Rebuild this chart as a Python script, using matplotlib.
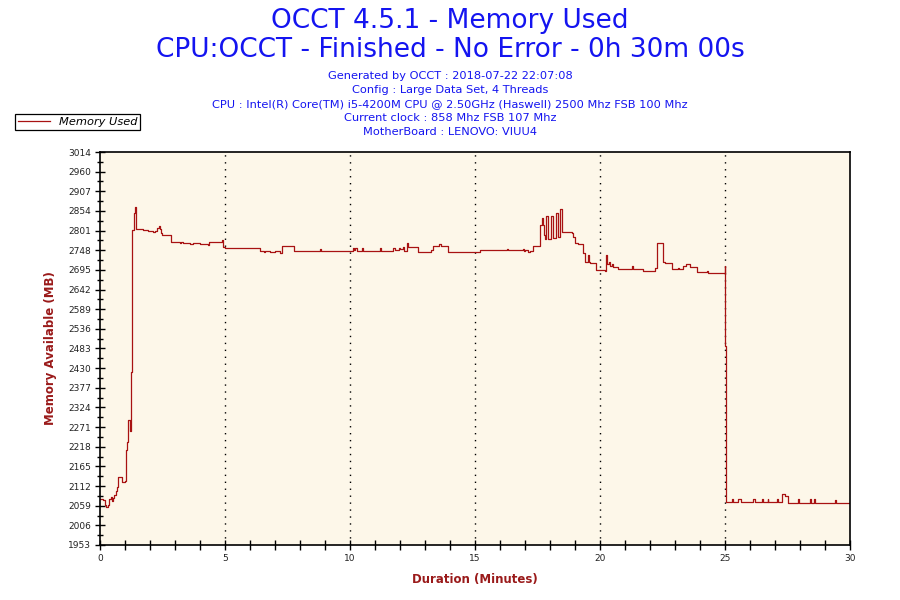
import numpy as np
import matplotlib
matplotlib.use('Agg')
import matplotlib.pyplot as plt

# temps (minutes) et memoire (MB)
minutes = [0.00, 0.12, 0.18, 0.24, 0.32, 0.36, 0.42, 0.46, 0.52, 0.56, 0.62, 0.68, 0.72, 0.84, 0.88, 0.98,
           1.04, 1.08, 1.12, 1.18, 1.20, 1.22, 1.26, 1.32, 1.36, 1.40, 1.42, 1.50, 1.70, 1.90, 2.10, 2.20,
           2.28, 2.34, 2.40, 2.44, 2.48, 2.84, 3.20, 3.24, 3.30, 3.60, 3.70, 4.00, 4.30, 4.36, 4.86, 4.88,
           4.92, 4.98, 6.40, 6.55, 6.60, 6.80, 7.00, 7.20, 7.28, 7.76, 8.80, 8.84, 10.10, 10.14, 10.20, 10.26,
           10.46, 10.50, 11.20, 11.24, 11.70, 11.78, 11.96, 12.00, 12.10, 12.14, 12.27, 12.31, 12.72, 13.24,
           13.30, 13.56, 13.62, 13.92, 14.20, 14.40, 14.90, 15.20, 15.60, 15.64, 16.28, 16.32, 16.90, 16.94,
           17.00, 17.10, 17.20, 17.30, 17.60, 17.66, 17.70, 17.74, 17.80, 17.85, 17.90, 18.05, 18.10, 18.24,
           18.30, 18.40, 18.46, 18.86, 18.92, 19.00, 19.10, 19.30, 19.40, 19.50, 19.54, 19.60, 19.84, 20.20,
           20.24, 20.28, 20.36, 20.40, 20.46, 20.50, 20.70, 21.26, 21.30, 21.70, 22.20, 22.26, 22.52, 22.60,
           22.88, 23.10, 23.14, 23.32, 23.44, 23.60, 23.88, 24.28, 24.32, 24.40, 24.98, 25.00, 25.04, 25.29,
           25.32, 25.50, 25.62, 26.13, 26.20, 26.47, 26.50, 26.70, 26.73, 27.07, 27.10, 27.27, 27.40, 27.50,
           27.90, 27.94, 28.40, 28.44, 28.55, 28.60, 29.40, 29.45, 30.00]
memory_used = [2077, 2075, 2062, 2056, 2060, 2078, 2083, 2072, 2080, 2088, 2100, 2110, 2137, 2137, 2123, 2127,
               2210, 2232, 2290, 2285, 2260, 2420, 2803, 2803, 2849, 2866, 2806, 2807, 2803, 2800, 2797, 2800,
               2810, 2814, 2806, 2795, 2790, 2770, 2769, 2771, 2769, 2766, 2767, 2765, 2764, 2770, 2770, 2776,
               2758, 2754, 2747, 2745, 2748, 2744, 2746, 2742, 2760, 2747, 2751, 2747, 2755, 2749, 2755, 2747,
               2755, 2747, 2755, 2747, 2754, 2749, 2755, 2752, 2758, 2747, 2767, 2757, 2743, 2749,
               2761, 2765, 2761, 2743, 2744, 2743, 2745, 2749, 2750, 2749, 2752, 2749, 2752, 2746,
               2749, 2745, 2748, 2760, 2817, 2835, 2817, 2790, 2780, 2841, 2780, 2841, 2783, 2849,
               2785, 2860, 2799, 2796, 2785, 2767, 2765, 2741, 2718, 2735, 2716, 2713, 2695, 2694,
               2736, 2712, 2718, 2706, 2712, 2703, 2698, 2705, 2698, 2693, 2700, 2769, 2718, 2715,
               2697, 2702, 2697, 2705, 2712, 2704, 2689, 2693, 2687, 2687, 2705, 2490, 2068, 2076,
               2068, 2078, 2068, 2076, 2068, 2078, 2068, 2076, 2068, 2078, 2068, 2090, 2084, 2067,
               2076, 2067, 2077, 2067, 2076, 2066, 2075, 2066, 2066]

y_ticks = [1953, 2006, 2059, 2112, 2165, 2218, 2271, 2324, 2377, 2430, 2483, 2536, 2589, 2642, 2695,
           2748, 2801, 2854, 2907, 2960, 3014]
grid_minutes = [5, 10, 15, 20, 25]

title = "OCCT 4.5.1 - Memory Used"
subtitle = "CPU:OCCT - Finished - No Error - 0h 30m 00s"
infos = ["Generated by OCCT : 2018-07-22 22:07:08",
         "Config : Large Data Set, 4 Threads",
         "CPU : Intel(R) Core(TM) i5-4200M CPU @ 2.50GHz (Haswell) 2500 Mhz FSB 100 Mhz",
         "Current clock : 858 Mhz FSB 107 Mhz",
         "MotherBoard : LENOVO: VIUU4"]

line_color = '#a81212'
label_color = '#9a1a1a'
blue = '#1414f0'

fig = plt.figure(figsize=(9, 6), dpi=100)
ax = fig.add_axes([100/900, 1-545/600, 750/900, 393/600])
ax.set_facecolor('#fdf7e9')

ax.plot(minutes, memory_used, color=line_color, lw=0.9, drawstyle='steps-post', label='Memory Used')

for g in grid_minutes:
    ax.axvline(g, color='black', lw=1, ls=(0, (1, 4)), zorder=0)

ax.set_xlim(0, 30)
ax.set_ylim(y_ticks[0], y_ticks[-1])
ax.set_xticks(range(31))
ax.set_xticklabels([str(i) if i % 5 == 0 else '' for i in range(31)])
ax.set_yticks(np.linspace(y_ticks[0], y_ticks[-1], len(y_ticks)))
ax.set_yticklabels([str(v) for v in y_ticks])
ax.set_yticks(np.linspace(y_ticks[0], y_ticks[-1], 2*len(y_ticks)-1), minor=True)
ax.tick_params(axis='both', which='major', direction='inout', length=7, width=1,
               labelsize=6.5, labelcolor='#222222', pad=3)
ax.tick_params(axis='y', which='minor', direction='inout', length=5, width=1)
for s in ax.spines.values():
    s.set_linewidth(1.2)

ax.set_ylabel("Memory Available (MB)", color=label_color, fontsize=8.5, fontweight='bold', labelpad=8)
ax.set_xlabel("Duration (Minutes)", color=label_color, fontsize=8.5, fontweight='bold', labelpad=7)

fig.text(0.5, 1-21/600, title, color=blue, fontsize=19, ha='center', va='center')
fig.text(0.5, 1-50/600, subtitle, color=blue, fontsize=19, ha='center', va='center')
for i, t in enumerate(infos):
    fig.text(0.5, 1-(76+14*i)/600, t, color=blue, fontsize=8.2, ha='center', va='center')

leg = fig.legend(loc='upper left', bbox_to_anchor=(15/900, 1-114/600), fancybox=False,
                 edgecolor='black', framealpha=1, fontsize=8.2, handlelength=2.8,
                 borderpad=0.25, borderaxespad=0)
leg.get_frame().set_linewidth(0.9)
for t in leg.get_texts():
    t.set_fontstyle('italic')

fig.savefig('out.png', dpi=100, facecolor='white')
